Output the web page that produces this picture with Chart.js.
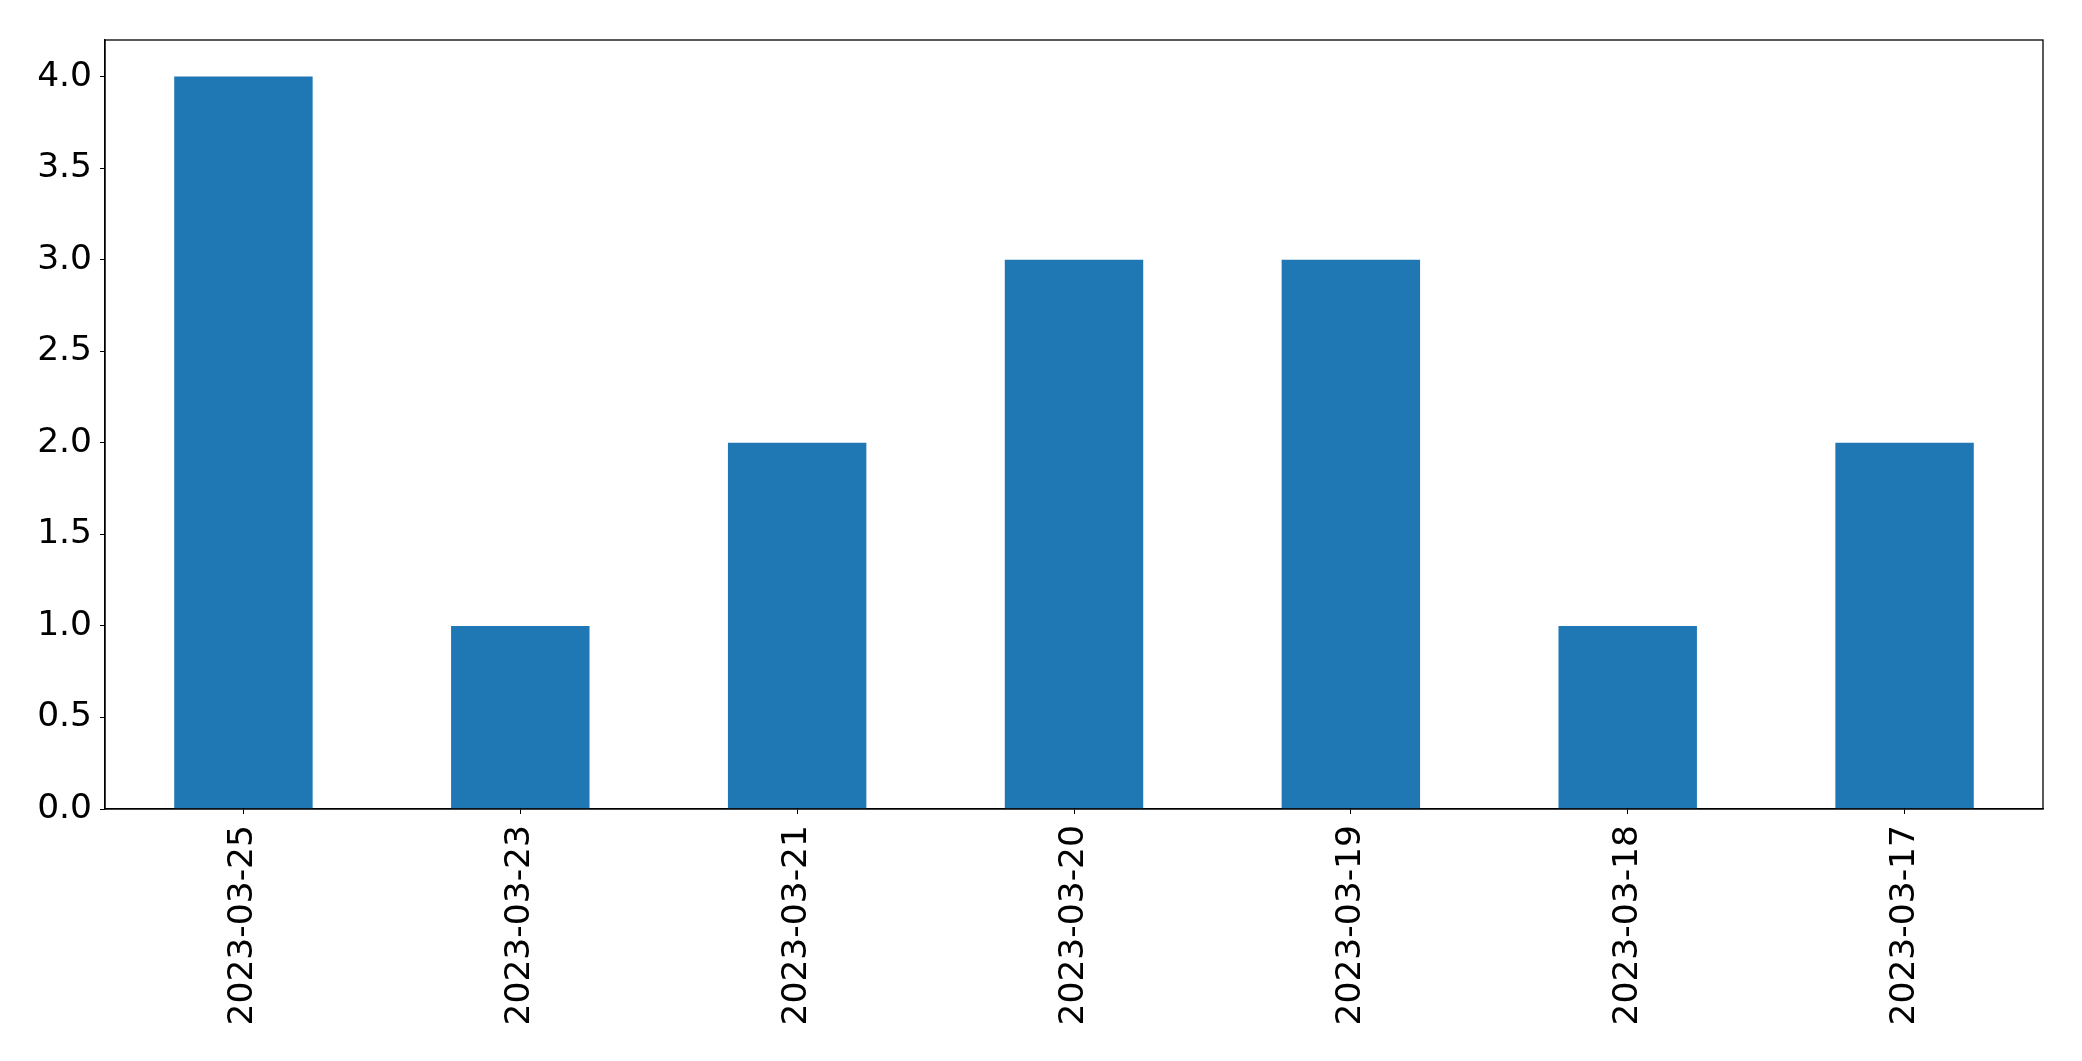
<!DOCTYPE html>
<html>
<head>
<meta charset="utf-8">
<script src="https://cdn.jsdelivr.net/npm/chart.js@4/dist/chart.umd.min.js"></script>
<style>
  html, body { margin: 0; padding: 0; background: #fff; }
  #wrap { width: 2082px; height: 1061px; }
</style>
</head>
<body>
<div id="wrap"><canvas id="chart"></canvas></div>
<script>
const dates  = ['2023-03-25', '2023-03-23', '2023-03-21', '2023-03-20', '2023-03-19', '2023-03-18', '2023-03-17'];
const counts = [4, 1, 2, 3, 3, 1, 2];
const yTicks = [0, 0.5, 1, 1.5, 2, 2.5, 3, 3.5, 4];

const font = { family: 'DejaVu Sans', size: 34.5 };

// full frame around the plot, like a matplotlib axes box
const frame = {
  id: 'frame',
  afterDraw(chart) {
    const { ctx, chartArea: a } = chart;
    ctx.save();
    ctx.strokeStyle = '#000';
    ctx.lineWidth = 1.3;
    ctx.strokeRect(a.left, a.top, a.right - a.left, a.bottom - a.top);
    ctx.restore();
  }
};

new Chart(document.getElementById('chart'), {
  type: 'bar',
  data: {
    labels: dates,
    datasets: [{
      data: counts,
      backgroundColor: '#1f77b4',
      categoryPercentage: 1,
      barPercentage: 0.5
    }]
  },
  options: {
    responsive: true,
    maintainAspectRatio: false,
    animation: false,
    layout: { padding: { top: 40, right: 39, left: 0, bottom: 0 } },
    plugins: { legend: { display: false }, tooltip: { enabled: false } },
    scales: {
      x: {
        offset: true,
        grid: { display: true, drawOnChartArea: false, drawTicks: true, tickLength: 5, color: '#000', offset: false },
        border: { display: true, color: '#000', width: 1.3 },
        ticks: { color: '#000', font, minRotation: 90, maxRotation: 90, padding: 11, autoSkip: false },
        afterFit: s => { s.height = 252; }
      },
      y: {
        min: 0,
        max: 4.2,
        afterBuildTicks: s => { s.ticks = yTicks.map(v => ({ value: v })); },
        grid: { display: true, drawOnChartArea: false, drawTicks: true, tickLength: 5, color: '#000' },
        border: { display: true, color: '#000', width: 1.3 },
        ticks: { color: '#000', font, padding: 8, callback: v => v.toFixed(1) },
        afterFit: s => { s.width = 105; }
      }
    }
  },
  plugins: [frame]
});
</script>
</body>
</html>
